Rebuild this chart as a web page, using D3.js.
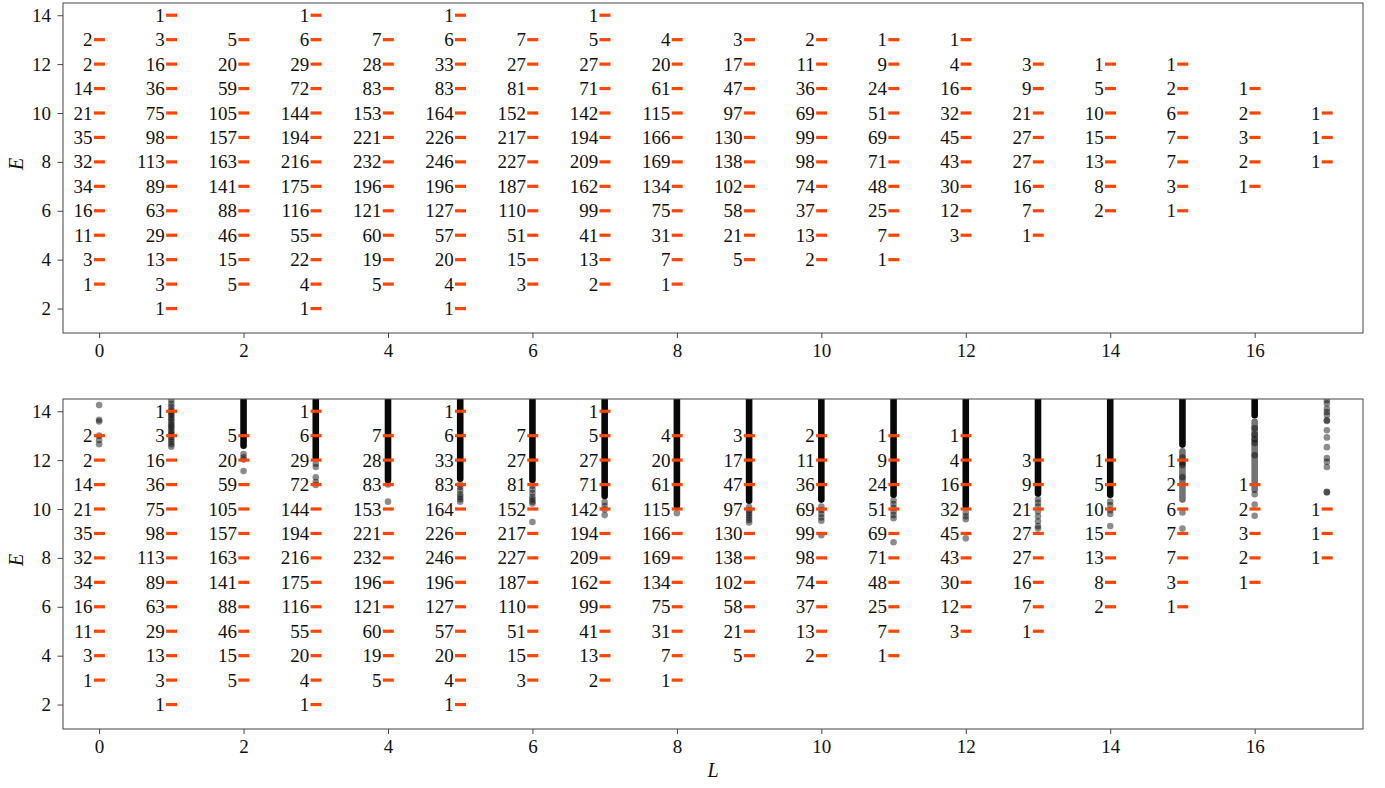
<!DOCTYPE html>
<html>
<head>
<meta charset="utf-8">
<script src="https://cdn.jsdelivr.net/npm/d3@7"></script>
<style>
body { margin: 0; background: #fff; }
svg text { font-family: "Liberation Serif", "DejaVu Serif", serif; fill: #111; }
</style>
</head>
<body>
<svg width="1385" height="788"></svg>
<script>
// ---- data ----
var L_values = [0,1,2,3,4,5,6,7,8,9,10,11,12,13,14,15,16,17]
// lowest E that has a level, per L
var E_start = [3,2,3,2,3,2,3,3,3,4,4,4,5,5,6,6,7,8]

// degeneracy counts, from E_start upwards
var counts_top = [
  [1,3,11,16,34,32,35,21,14,2,2],
  [1,3,13,29,63,89,113,98,75,36,16,3,1],
  [5,15,46,88,141,163,157,105,59,20,5],
  [1,4,22,55,116,175,216,194,144,72,29,6,1],
  [5,19,60,121,196,232,221,153,83,28,7],
  [1,4,20,57,127,196,246,226,164,83,33,6,1],
  [3,15,51,110,187,227,217,152,81,27,7],
  [2,13,41,99,162,209,194,142,71,27,5,1],
  [1,7,31,75,134,169,166,115,61,20,4],
  [5,21,58,102,138,130,97,47,17,3],
  [2,13,37,74,98,99,69,36,11,2],
  [1,7,25,48,71,69,51,24,9,1],
  [3,12,30,43,45,32,16,4,1],
  [1,7,16,27,27,21,9,3],
  [2,8,13,15,10,5,1],
  [1,3,7,7,6,2,1],
  [1,2,3,2,1],
  [1,1,1]
]
var counts_bottom = [
  [1,3,11,16,34,32,35,21,14,2,2],
  [1,3,13,29,63,89,113,98,75,36,16,3,1],
  [5,15,46,88,141,163,157,105,59,20,5],
  [1,4,20,55,116,175,216,194,144,72,29,6,1],
  [5,19,60,121,196,232,221,153,83,28,7],
  [1,4,20,57,127,196,246,226,164,83,33,6,1],
  [3,15,51,110,187,227,217,152,81,27,7],
  [2,13,41,99,162,209,194,142,71,27,5,1],
  [1,7,31,75,134,169,166,115,61,20,4],
  [5,21,58,102,138,130,97,47,17,3],
  [2,13,37,74,98,99,69,36,11,2],
  [1,7,25,48,71,69,51,24,9,1],
  [3,12,30,43,45,32,16,4,1],
  [1,7,16,27,27,21,9,3],
  [2,8,13,15,10,5,1],
  [1,3,7,7,6,2,1],
  [1,2,3,2,1],
  [1,1,1]
]

var x_ticks = [0,2,4,6,8,10,12,14,16]
var y_ticks = [2,4,6,8,10,12,14]

// scatter in lower panel: solid columns [L, lowest E] that run off the top
var dense_dark = [[2,12.45],[3,11.95],[4,11.05],[5,11.1],[6,11.05],[7,10.4],[8,10.0],
  [9,10.2],[10,10.25],[11,10.45],[12,10.0],[13,10.5],[14,10.45],[15,12.5],[16,13.7]]
// thinner stretches of overlapping points [L, low E, high E]
var dense_light = [[15,10.25,12.5],[16,10.65,13.7]]
// single points [L, [E...]]
var sparse_dots = [
  [0, [14.25,13.65,13.58,13.0,12.82,12.65]],
  [1, [14.45,14.3,14.18,14.05,13.98,13.9,13.82,13.72,13.65,13.55,13.45,13.38,13.3,13.2,13.12,13.05,12.95,12.85,12.75,12.65,12.55]],
  [2, [12.25,12.12,12.02,11.55]],
  [3, [11.85,11.72,11.3,11.1,10.98]],
  [4, [11.0,10.3]],
  [5, [11.0,10.9,10.75,10.6,10.5,10.4,10.3]],
  [6, [10.95,10.8,10.65,10.5,10.4,10.3,10.22,9.47]],
  [7, [10.28,10.12,9.98,9.75]],
  [8, [9.83]],
  [9, [10.08,9.95,9.85,9.75,9.65,9.55,9.45]],
  [10, [10.1,9.95,9.8,9.65,9.52,8.93]],
  [11, [10.35,10.2,10.05,9.9,9.75,9.62,8.64]],
  [12, [9.85,9.7,9.58,8.8]],
  [13, [10.4,10.25,10.1,9.9,9.7,9.5,9.3,9.2]],
  [14, [10.3,10.15,9.95,9.8,9.3]],
  [15, [12.1,11.9,11.8,11.3,9.86,9.2]],
  [16, [13.3,13.05,12.85,12.7,12.2,10.6,10.18,9.72]],
  [17, [14.45,14.32,14.1,13.97,13.85,13.63,13.6,13.22,12.93,12.53,12.08,11.93,11.72,10.7,10.68]]
]

// ---- layout ----
var svg = d3.select('svg')
var left = 63, right = 1363
var panels = [
  {top: 3, bottom: 333, counts: counts_top, dots: false},
  {top: 399, bottom: 729, counts: counts_bottom, dots: true}
]

var x = d3.scaleLinear().domain([-0.5, 17.5]).range([left, right])
var fontSize = 19

function levels(counts) {
  var out = []
  counts.forEach(function(col, i) {
    col.forEach(function(n, k) {
      out.push({L: L_values[i], E: E_start[i] + k, n: n})
    })
  })
  return out
}

panels.forEach(function(p, pi) {
  var y = d3.scaleLinear().domain([1, 14.5]).range([p.bottom, p.top])
  var g = svg.append('g')

  g.append('clipPath').attr('id', 'clip' + pi)
    .append('rect')
    .attr('x', left).attr('y', p.top)
    .attr('width', right - left).attr('height', p.bottom - p.top)

  var plot = g.append('g').attr('clip-path', 'url(#clip' + pi + ')')

  if (p.dots) {
    var colW = 6.6
    plot.selectAll('rect.dark')
      .data(dense_dark).enter().append('rect')
      .attr('x', function(d) { return x(d[0]) - colW / 2 })
      .attr('y', y(15))
      .attr('width', colW)
      .attr('height', function(d) { return y(d[1]) - y(15) })
      .attr('rx', colW / 2)
      .style('fill', '#000')
      .style('opacity', 0.97)

    plot.selectAll('rect.light')
      .data(dense_light).enter().append('rect')
      .attr('x', function(d) { return x(d[0]) - colW / 2 })
      .attr('y', function(d) { return y(d[2]) })
      .attr('width', colW)
      .attr('height', function(d) { return y(d[1]) - y(d[2]) })
      .attr('rx', colW / 2)
      .style('fill', '#000')
      .style('opacity', 0.55)

    var pts = []
    sparse_dots.forEach(function(s) {
      s[1].forEach(function(e) { pts.push({L: s[0], E: e}) })
    })
    plot.selectAll('circle')
      .data(pts).enter().append('circle')
      .attr('cx', function(d) { return x(d.L) })
      .attr('cy', function(d) { return y(d.E) })
      .attr('r', 3.3)
      .style('fill', '#000')
      .style('fill-opacity', 0.45)
  }

  var lv = levels(p.counts)

  // orange level markers
  plot.selectAll('rect.lvl')
    .data(lv).enter().append('rect')
    .attr('x', function(d) { return x(d.L) - 5.2 })
    .attr('y', function(d) { return y(d.E) - 1.6 })
    .attr('width', 11)
    .attr('height', 3.2)
    .style('fill', '#ff4500')

  // counts
  g.selectAll('text.cnt')
    .data(lv).enter().append('text')
    .attr('x', function(d) { return x(d.L) - 6.5 })
    .attr('y', function(d) { return y(d.E) + 6.5 })
    .attr('text-anchor', 'end')
    .style('font-size', fontSize + 'px')
    .text(function(d) { return d.n })

  // axes
  var ax = g.append('g')
    .attr('transform', 'translate(0,' + p.bottom + ')')
    .call(d3.axisBottom(x).tickValues(x_ticks).tickSize(5).tickPadding(6))
  var ay = g.append('g')
    .attr('transform', 'translate(' + left + ',0)')
    .call(d3.axisLeft(y).tickValues(y_ticks).tickSize(5.5).tickPadding(6.5))
  ;[ax, ay].forEach(function(a) {
    a.select('.domain').remove()
    a.selectAll('line').style('stroke', '#444')
    a.selectAll('text').style('font-size', fontSize + 'px').style('font-family', '"Liberation Serif", serif').style('fill', '#111')
  })

  g.append('rect')
    .attr('x', left).attr('y', p.top)
    .attr('width', right - left).attr('height', p.bottom - p.top)
    .style('fill', 'none').style('stroke', '#444').style('stroke-width', 1)

  g.append('text')
    .attr('transform', 'translate(23,' + ((p.top + p.bottom) / 2 - 4) + ') rotate(-90)')
    .attr('text-anchor', 'middle')
    .style('font-size', '20px')
    .style('font-style', 'italic')
    .text('E')
})

svg.append('text')
  .attr('x', (left + right) / 2)
  .attr('y', 777)
  .attr('text-anchor', 'middle')
  .style('font-size', '20px')
  .style('font-style', 'italic')
  .text('L')
</script>
</body>
</html>
